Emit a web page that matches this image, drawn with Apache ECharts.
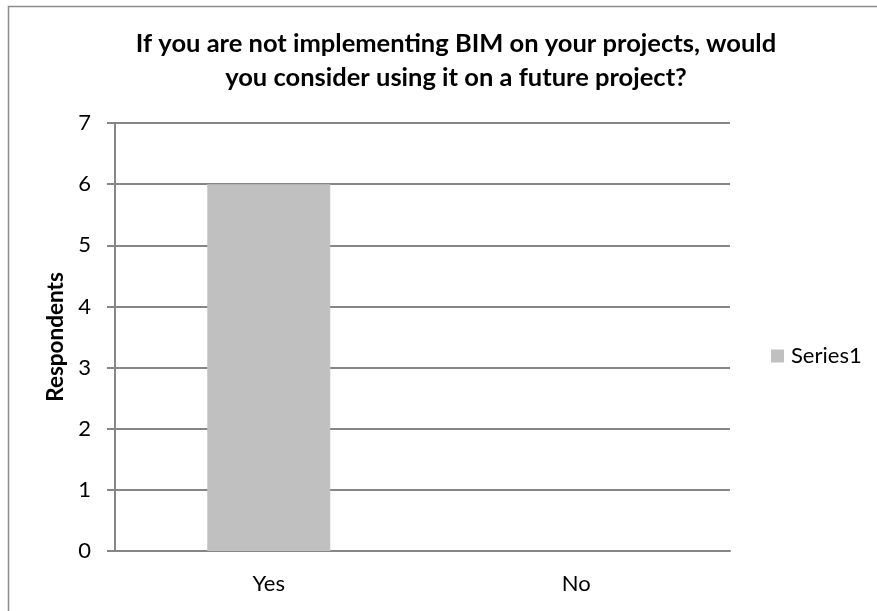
<!DOCTYPE html>
<html>
<head>
<meta charset="utf-8">
<script src="https://cdn.jsdelivr.net/npm/echarts@6/dist/echarts.min.js"></script>
<style>
  html, body { margin: 0; padding: 0; background: #fff; }
  #chart { width: 877px; height: 611px; }
</style>
</head>
<body>
<div id="chart"></div>
<script>
// Survey answers
const categories = ['Yes', 'No'];
const respondents = [6, 0];
const seriesName = 'Series1';
const titleText = 'If you are not implementing BIM on your projects, would\nyou consider using it on a future project?';
const yAxisTitle = 'Respondents';

const FONT = 'Lato';
const chart = echarts.init(document.getElementById('chart'));

chart.setOption({
  animation: false,
  backgroundColor: '#ffffff',
  graphic: [{
    type: 'rect',
    shape: { x: 8.5, y: 6.5, width: 900, height: 700 },
    style: { fill: 'none', stroke: '#8c8c8c', lineWidth: 1.5 },
    silent: true
  }],
  title: {
    text: titleText,
    left: 451,
    top: 22,
    textAlign: 'center',
    textStyle: {
      fontFamily: FONT,
      fontWeight: 'bold',
      fontSize: 25.5,
      lineHeight: 34,
      color: '#000'
    }
  },
  legend: {
    left: 771,
    top: 345,
    padding: 0,
    orient: 'vertical',
    itemWidth: 13,
    itemHeight: 13,
    itemGap: 7,
    icon: 'rect',
    textStyle: { fontFamily: FONT, fontSize: 22, color: '#000', padding: [0, 0, 0, 2] },
    data: [seriesName]
  },
  grid: { left: 115, right: 147, top: 123, bottom: 60, containLabel: false },
  xAxis: {
    type: 'category',
    data: categories,
    axisLine: { lineStyle: { color: '#868686', width: 2 } },
    axisTick: { show: false },
    axisLabel: { fontFamily: FONT, fontSize: 22, color: '#000', margin: 22 }
  },
  yAxis: {
    type: 'value',
    min: 0,
    max: 7,
    interval: 1,
    name: yAxisTitle,
    nameLocation: 'middle',
    nameGap: 48,
    nameRotate: 90,
    nameTextStyle: { fontFamily: FONT, fontWeight: 'bold', fontSize: 22.5, color: '#000' },
    axisLine: { show: true, lineStyle: { color: '#868686', width: 2 } },
    axisTick: { show: true, length: 8, lineStyle: { color: '#868686', width: 2 } },
    axisLabel: { fontFamily: FONT, fontSize: 22, color: '#000', margin: 24 },
    splitLine: { lineStyle: { color: '#868686', width: 2 } }
  },
  series: [{
    name: seriesName,
    type: 'bar',
    data: respondents,
    barWidth: '40%',
    itemStyle: { color: '#c0c0c0' }
  }]
});
</script>
</body>
</html>
